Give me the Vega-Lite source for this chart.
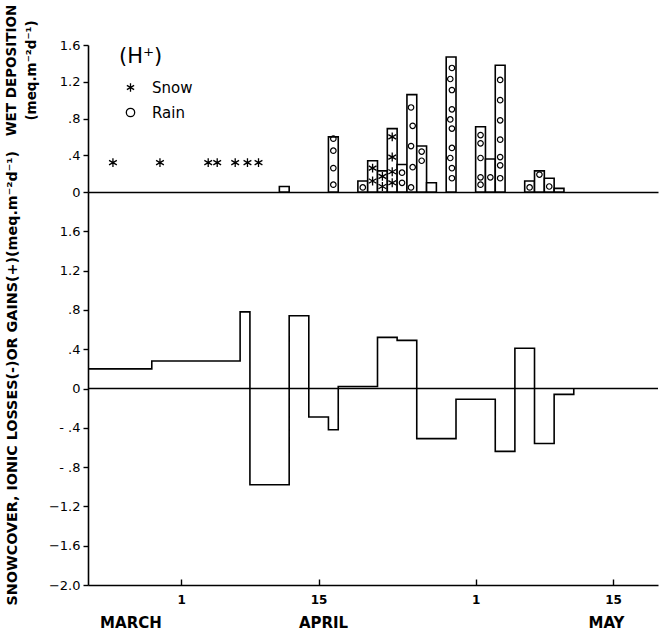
{
  "$schema": "https://vega.github.io/schema/vega-lite/v6.json",
  "background": "white",
  "padding": {"left": 3, "top": 4, "right": 2, "bottom": 2},
  "bounds": "flush",
  "spacing": 0,
  "config": {
    "view": {"stroke": null},
    "font": "DejaVu Sans",
    "axis": {"domainColor": "black", "domainWidth": 1.6, "tickColor": "black", "tickWidth": 1.4, "labelColor": "black", "titleColor": "black", "grid": false, "labelFont": "DejaVu Sans", "titleFont": "DejaVu Sans", "labelFlush": false, "labelOverlap": false}
  },
  "datasets": {
    "deposition": [
      {"start": "2024-04-11T00:00:00Z", "end": "2024-04-12T00:00:00Z", "value": 0.06},
      {"start": "2024-04-16T00:00:00Z", "end": "2024-04-17T00:00:00Z", "value": 0.60},
      {"start": "2024-04-19T00:00:00Z", "end": "2024-04-20T00:00:00Z", "value": 0.12},
      {"start": "2024-04-20T00:00:00Z", "end": "2024-04-21T00:00:00Z", "value": 0.34},
      {"start": "2024-04-21T00:00:00Z", "end": "2024-04-22T00:00:00Z", "value": 0.23},
      {"start": "2024-04-22T00:00:00Z", "end": "2024-04-23T00:00:00Z", "value": 0.69},
      {"start": "2024-04-23T00:00:00Z", "end": "2024-04-24T00:00:00Z", "value": 0.30},
      {"start": "2024-04-24T00:00:00Z", "end": "2024-04-25T00:00:00Z", "value": 1.06},
      {"start": "2024-04-25T00:00:00Z", "end": "2024-04-26T00:00:00Z", "value": 0.50},
      {"start": "2024-04-26T00:00:00Z", "end": "2024-04-27T00:00:00Z", "value": 0.10},
      {"start": "2024-04-28T00:00:00Z", "end": "2024-04-29T00:00:00Z", "value": 1.47},
      {"start": "2024-05-01T00:00:00Z", "end": "2024-05-02T00:00:00Z", "value": 0.71},
      {"start": "2024-05-02T00:00:00Z", "end": "2024-05-03T00:00:00Z", "value": 0.36},
      {"start": "2024-05-03T00:00:00Z", "end": "2024-05-04T00:00:00Z", "value": 1.38},
      {"start": "2024-05-06T00:00:00Z", "end": "2024-05-07T00:00:00Z", "value": 0.12},
      {"start": "2024-05-07T00:00:00Z", "end": "2024-05-08T00:00:00Z", "value": 0.23},
      {"start": "2024-05-08T00:00:00Z", "end": "2024-05-09T00:00:00Z", "value": 0.15},
      {"start": "2024-05-09T00:00:00Z", "end": "2024-05-10T00:00:00Z", "value": 0.04}
    ],
    "symbols": [
      {"time": "2024-03-25T01:00:00Z", "value": 0.32, "type": "Snow"},
      {"time": "2024-03-29T20:00:00Z", "value": 0.32, "type": "Snow"},
      {"time": "2024-04-03T18:00:00Z", "value": 0.32, "type": "Snow"},
      {"time": "2024-04-04T16:00:00Z", "value": 0.32, "type": "Snow"},
      {"time": "2024-04-06T12:00:00Z", "value": 0.32, "type": "Snow"},
      {"time": "2024-04-07T18:00:00Z", "value": 0.32, "type": "Snow"},
      {"time": "2024-04-08T21:00:00Z", "value": 0.32, "type": "Snow"},
      {"time": "2024-04-16T12:00:00Z", "value": 0.58, "type": "Rain"},
      {"time": "2024-04-16T12:00:00Z", "value": 0.45, "type": "Rain"},
      {"time": "2024-04-16T12:00:00Z", "value": 0.26, "type": "Rain"},
      {"time": "2024-04-16T12:00:00Z", "value": 0.08, "type": "Rain"},
      {"time": "2024-04-19T12:00:00Z", "value": 0.05, "type": "Rain"},
      {"time": "2024-04-20T12:00:00Z", "value": 0.26, "type": "Snow"},
      {"time": "2024-04-20T12:00:00Z", "value": 0.12, "type": "Snow"},
      {"time": "2024-04-21T12:00:00Z", "value": 0.17, "type": "Snow"},
      {"time": "2024-04-21T12:00:00Z", "value": 0.06, "type": "Snow"},
      {"time": "2024-04-22T12:00:00Z", "value": 0.60, "type": "Snow"},
      {"time": "2024-04-22T12:00:00Z", "value": 0.38, "type": "Snow"},
      {"time": "2024-04-22T12:00:00Z", "value": 0.22, "type": "Snow"},
      {"time": "2024-04-22T12:00:00Z", "value": 0.10, "type": "Snow"},
      {"time": "2024-04-23T12:00:00Z", "value": 0.21, "type": "Rain"},
      {"time": "2024-04-23T12:00:00Z", "value": 0.10, "type": "Rain"},
      {"time": "2024-04-24T10:00:00Z", "value": 0.92, "type": "Rain"},
      {"time": "2024-04-24T14:00:00Z", "value": 0.72, "type": "Rain"},
      {"time": "2024-04-24T10:00:00Z", "value": 0.50, "type": "Rain"},
      {"time": "2024-04-24T14:00:00Z", "value": 0.27, "type": "Rain"},
      {"time": "2024-04-24T10:00:00Z", "value": 0.05, "type": "Rain"},
      {"time": "2024-04-25T12:00:00Z", "value": 0.44, "type": "Rain"},
      {"time": "2024-04-25T12:00:00Z", "value": 0.34, "type": "Rain"},
      {"time": "2024-04-28T14:00:00Z", "value": 1.35, "type": "Rain"},
      {"time": "2024-04-28T10:00:00Z", "value": 1.23, "type": "Rain"},
      {"time": "2024-04-28T14:00:00Z", "value": 1.11, "type": "Rain"},
      {"time": "2024-04-28T14:00:00Z", "value": 0.90, "type": "Rain"},
      {"time": "2024-04-28T10:00:00Z", "value": 0.79, "type": "Rain"},
      {"time": "2024-04-28T14:00:00Z", "value": 0.69, "type": "Rain"},
      {"time": "2024-04-28T14:00:00Z", "value": 0.48, "type": "Rain"},
      {"time": "2024-04-28T10:00:00Z", "value": 0.37, "type": "Rain"},
      {"time": "2024-04-28T14:00:00Z", "value": 0.26, "type": "Rain"},
      {"time": "2024-04-28T14:00:00Z", "value": 0.15, "type": "Rain"},
      {"time": "2024-05-01T12:00:00Z", "value": 0.62, "type": "Rain"},
      {"time": "2024-05-01T12:00:00Z", "value": 0.53, "type": "Rain"},
      {"time": "2024-05-01T12:00:00Z", "value": 0.37, "type": "Rain"},
      {"time": "2024-05-01T12:00:00Z", "value": 0.16, "type": "Rain"},
      {"time": "2024-05-01T12:00:00Z", "value": 0.08, "type": "Rain"},
      {"time": "2024-05-02T12:00:00Z", "value": 0.16, "type": "Rain"},
      {"time": "2024-05-03T12:00:00Z", "value": 1.22, "type": "Rain"},
      {"time": "2024-05-03T12:00:00Z", "value": 1.00, "type": "Rain"},
      {"time": "2024-05-03T12:00:00Z", "value": 0.78, "type": "Rain"},
      {"time": "2024-05-03T12:00:00Z", "value": 0.57, "type": "Rain"},
      {"time": "2024-05-03T12:00:00Z", "value": 0.38, "type": "Rain"},
      {"time": "2024-05-03T12:00:00Z", "value": 0.29, "type": "Rain"},
      {"time": "2024-05-03T12:00:00Z", "value": 0.15, "type": "Rain"},
      {"time": "2024-05-06T12:00:00Z", "value": 0.05, "type": "Rain"},
      {"time": "2024-05-07T12:00:00Z", "value": 0.19, "type": "Rain"},
      {"time": "2024-05-08T12:00:00Z", "value": 0.06, "type": "Rain"}
    ],
    "balance": [
      {"time": "2024-03-22T12:00:00Z", "value": 0.20},
      {"time": "2024-03-29T00:00:00Z", "value": 0.28},
      {"time": "2024-04-07T00:00:00Z", "value": 0.78},
      {"time": "2024-04-08T00:00:00Z", "value": -0.98},
      {"time": "2024-04-12T00:00:00Z", "value": 0.74},
      {"time": "2024-04-14T00:00:00Z", "value": -0.29},
      {"time": "2024-04-16T00:00:00Z", "value": -0.42},
      {"time": "2024-04-17T00:00:00Z", "value": 0.02},
      {"time": "2024-04-21T00:00:00Z", "value": 0.52},
      {"time": "2024-04-23T00:00:00Z", "value": 0.49},
      {"time": "2024-04-25T00:00:00Z", "value": -0.51},
      {"time": "2024-04-29T00:00:00Z", "value": -0.11},
      {"time": "2024-05-03T00:00:00Z", "value": -0.64},
      {"time": "2024-05-05T00:00:00Z", "value": 0.41},
      {"time": "2024-05-07T00:00:00Z", "value": -0.56},
      {"time": "2024-05-09T00:00:00Z", "value": -0.06},
      {"time": "2024-05-11T00:00:00Z", "value": 0.0}
    ],
    "months": [
      {"time": "2024-03-26T21:00:00Z", "label": "MARCH"},
      {"time": "2024-04-15T12:00:00Z", "label": "APRIL"},
      {"time": "2024-05-14T08:00:00Z", "label": "MAY"}
    ],
    "zero": [{"value": 0}]
  },
  "vconcat": [
    {
      "width": 570,
      "height": 147,
      "encoding": {
        "y": {
          "field": "value", "type": "quantitative",
          "scale": {"domain": [0, 1.6], "nice": false},
          "axis": {
            "values": [0, 0.4, 0.8, 1.2, 1.6],
            "labelExpr": "datum.value == 0 ? '0' : datum.value < 1 ? '.' + round(datum.value*10) : format(datum.value, '.1f')",
            "labelOverlap": false, "labelFlush": false, "labelSeparation": 0,
            "tickSize": 5, "labelFontSize": 13, "labelPadding": 3,
            "title": ["WET DEPOSITION", "(meq.m⁻²d⁻¹)"],
            "titleFontSize": 13.5, "titleFontWeight": "bold", "titleLineHeight": 20,
            "titleAngle": -90, "titleX": -70, "titleY": 25, "titleAlign": "center"
          }
        }
      },
      "layer": [
        {
          "data": {"name": "deposition"},
          "mark": {"type": "rect", "fill": "white", "stroke": "black", "strokeWidth": 1.6},
          "encoding": {
            "x": {
              "field": "start", "type": "temporal",
              "scale": {"type": "utc", "domain": [{"year": 2024, "month": 3, "date": 22, "hours": 12, "utc": true}, {"year": 2024, "month": 5, "date": 19, "hours": 14, "utc": true}]},
              "axis": {"labels": false, "ticks": false, "title": null, "domain": true}
            },
            "x2": {"field": "end"},
            "y2": {"datum": 0}
          }
        },
        {
          "data": {"name": "symbols"},
          "transform": [{"filter": "datum.type == 'Snow'"}],
          "mark": {"type": "point", "filled": false, "stroke": "black", "strokeWidth": 1.3, "opacity": 1, "size": 80},
          "encoding": {
            "x": {"field": "time", "type": "temporal"},
            "shape": {
              "field": "type", "type": "nominal",
              "scale": {"domain": ["Snow", "Rain"], "range": ["M0,-1L0,1M-0.87,-0.5L0.87,0.5M-0.87,0.5L0.87,-0.5", "circle"]},
              "legend": {
                "orient": "none", "legendX": 31, "legendY": 1, "title": "(H⁺)",
                "titleFontSize": 21, "titleFontWeight": "normal", "titlePadding": 13,
                "labelFontSize": 15, "symbolSize": 70, "symbolStrokeColor": "black", "symbolStrokeWidth": 1.3,
                "rowPadding": 9, "labelOffset": 14, "symbolOffset": 4, "padding": 0,
                "labelColor": "black", "titleColor": "black"
              }
            }
          }
        },
        {
          "data": {"name": "symbols"},
          "transform": [{"filter": "datum.type == 'Rain'"}],
          "mark": {"type": "point", "filled": false, "stroke": "black", "strokeWidth": 1.2, "opacity": 1, "size": 30},
          "encoding": {
            "x": {"field": "time", "type": "temporal"},
            "shape": {"field": "type", "type": "nominal"}
          }
        }
      ]
    },
    {
      "width": 570,
      "height": 393,
      "layer": [
        {
          "data": {"name": "zero"},
          "mark": {"type": "rule", "stroke": "black", "strokeWidth": 1.6},
          "encoding": {"y": {"field": "value", "type": "quantitative"}}
        },
        {
          "data": {"name": "balance"},
          "mark": {"type": "line", "interpolate": "step-after", "stroke": "black", "strokeWidth": 1.6},
          "encoding": {
            "x": {
              "field": "time", "type": "temporal",
              "scale": {"type": "utc", "domain": [{"year": 2024, "month": 3, "date": 22, "hours": 12, "utc": true}, {"year": 2024, "month": 5, "date": 19, "hours": 14, "utc": true}]},
              "axis": {
                "values": [{"year": 2024, "month": 4, "date": 1, "utc": true}, {"year": 2024, "month": 4, "date": 15, "utc": true}, {"year": 2024, "month": 5, "date": 1, "utc": true}, {"year": 2024, "month": 5, "date": 15, "utc": true}],
                "labelExpr": "'' + utcdate(datum.value)",
                "tickSize": -6, "labelPadding": 15, "labelFontSize": 12, "labelFontWeight": "bold",
                "title": null, "domain": true
              }
            },
            "y": {
              "field": "value", "type": "quantitative",
              "scale": {"domain": [-2, 2], "nice": false},
              "axis": {
                "values": [-2, -1.6, -1.2, -0.8, -0.4, 0, 0.4, 0.8, 1.2, 1.6],
                "labelExpr": "datum.value == 0 ? '0' : abs(datum.value) < 1 ? (datum.value < 0 ? '- .' : '.') + round(abs(datum.value)*10) : format(datum.value, '.1f')",
                "labelOverlap": false, "labelFlush": false,
                "tickSize": 5, "labelFontSize": 13, "labelPadding": 3,
                "title": "SNOWCOVER, IONIC LOSSES(-)OR GAINS(+)(meq.m⁻²d⁻¹)",
                "titleFontSize": 14.3, "titleFontWeight": "bold",
                "titleAngle": -90, "titleX": -69, "titleY": 413, "titleAlign": "left"
              }
            }
          }
        },
        {
          "data": {"name": "months"},
          "mark": {"type": "text", "fontSize": 15, "fontWeight": "bold", "dy": 38, "baseline": "middle", "color": "black"},
          "encoding": {
            "x": {"field": "time", "type": "temporal"},
            "y": {"datum": -2},
            "text": {"field": "label"}
          }
        }
      ]
    }
  ]
}
